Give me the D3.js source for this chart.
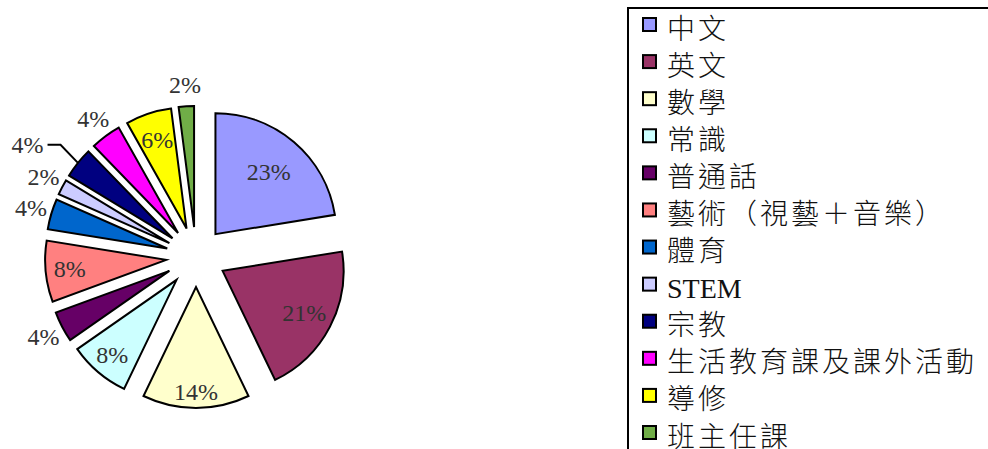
<!DOCTYPE html>
<html>
<head>
<meta charset="utf-8">
<script src="https://cdn.jsdelivr.net/npm/d3@7"></script>
<style>
  html, body { margin: 0; padding: 0; background: #fff; }
  svg { display: block; }
</style>
</head>
<body>
<div id="chart"></div>
<script>
// subjects, periods per cycle (slice sizes) and the printed percentage labels
const subjects = ["中文", "英文", "數學", "常識", "普通話", "藝術（視藝＋音樂）",
                  "體育", "STEM", "宗教", "生活教育課及課外活動", "導修", "班主任課"];
const periods = [11, 10, 7, 4, 2, 4, 2, 1, 2, 2, 3, 1];
const pctLabels = ["23%", "21%", "14%", "8%", "4%", "8%", "4%", "2%", "4%", "4%", "6%", "2%"];
const colours = ["#9999FF", "#993366", "#FFFFCC", "#CCFFFF", "#660066", "#FF8080",
                 "#0066CC", "#CCCCFF", "#000080", "#FF00FF", "#FFFF00", "#70AD47"];

const W = 988, H = 449;
const cx = 196, cy = 257;   // pie centre before explosion
const R = 121;              // slice radius
const explode = 30;         // how far every slice is pulled out

// where the label sits inside a slice, as a share of the radius
const insideK = [0.68, 0.76, 0.87, 0.82, 0, 0.80, 0, 0, 0, 0, 0.77, 0];
const outsideDist = 172;

const svg = d3.select("#chart").append("svg")
    .attr("width", W).attr("height", H);

const pie = d3.pie().sort(null).value(d => d);
const arcs = pie(periods);
const arcGen = d3.arc().innerRadius(0).outerRadius(R);

const midOf = a => (a.startAngle + a.endAngle) / 2;
const dir = a => [Math.sin(midOf(a)), -Math.cos(midOf(a))];

const pieG = svg.append("g").attr("transform", `translate(${cx},${cy})`);

pieG.selectAll("path.slice")
    .data(arcs)
    .join("path")
    .attr("class", "slice")
    .attr("d", arcGen)
    .attr("transform", d => {
      const [dx, dy] = dir(d);
      return `translate(${dx * explode},${dy * explode})`;
    })
    .attr("fill", (d, i) => colours[i])
    .attr("stroke", "#000")
    .attr("stroke-width", 2)
    .attr("stroke-linejoin", "miter");

// percentage labels
arcs.forEach((a, i) => {
  const [dx, dy] = dir(a);
  let x, y;
  const outside = periods[i] < 3;
  if (!outside) {
    const dist = explode + insideK[i] * R;
    x = dx * dist; y = dy * dist;
  } else {
    x = dx * outsideDist; y = dy * outsideDist;
  }
  if (subjects[i] === "宗教") {
    // label was dragged off to the left, with a leader to the slice
    x -= 34; y -= 5;
    const tipDist = explode + R;
    pieG.append("polyline")
        .attr("points", [[x + 20, y], [x + 33, y], [dx * tipDist, dy * tipDist]]
              .map(p => p.join(",")).join(" "))
        .attr("fill", "none")
        .attr("stroke", "#000")
        .attr("stroke-width", 2);
  }
  pieG.append("text")
      .attr("x", x).attr("y", y)
      .attr("text-anchor", "middle")
      .attr("dominant-baseline", "central")
      .attr("font-family", "'Liberation Serif', 'Times New Roman', serif")
      .attr("font-size", 24)
      .attr("fill", "#333")
      .text(pctLabels[i]);
});

// legend
const legend = svg.append("g");
legend.append("rect")
    .attr("x", 628).attr("y", 8)
    .attr("width", 400).attr("height", 500)
    .attr("fill", "#fff")
    .attr("stroke", "#000")
    .attr("stroke-width", 2);

const rowY = d3.scaleLinear().domain([0, subjects.length - 1]).range([25, 433]);

const rows = legend.selectAll("g.row")
    .data(subjects)
    .join("g")
    .attr("class", "row")
    .attr("transform", (d, i) => `translate(0,${rowY(i)})`);

rows.append("rect")
    .attr("x", 643).attr("y", -7)
    .attr("width", 13).attr("height", 13)
    .attr("fill", (d, i) => colours[i])
    .attr("stroke", "#000")
    .attr("stroke-width", 2);

rows.append("text")
    .attr("x", 667).attr("y", 4)
    .attr("dominant-baseline", "central")
    .attr("font-family", "'Liberation Serif', 'Noto Sans CJK TC', serif")
    .attr("font-size", 28)
    .attr("font-weight", 300)
    .attr("letter-spacing", d => /^[A-Z]+$/.test(d) ? 0 : 3)
    .attr("fill", "#111")
    .text(d => d);
</script>
</body>
</html>
